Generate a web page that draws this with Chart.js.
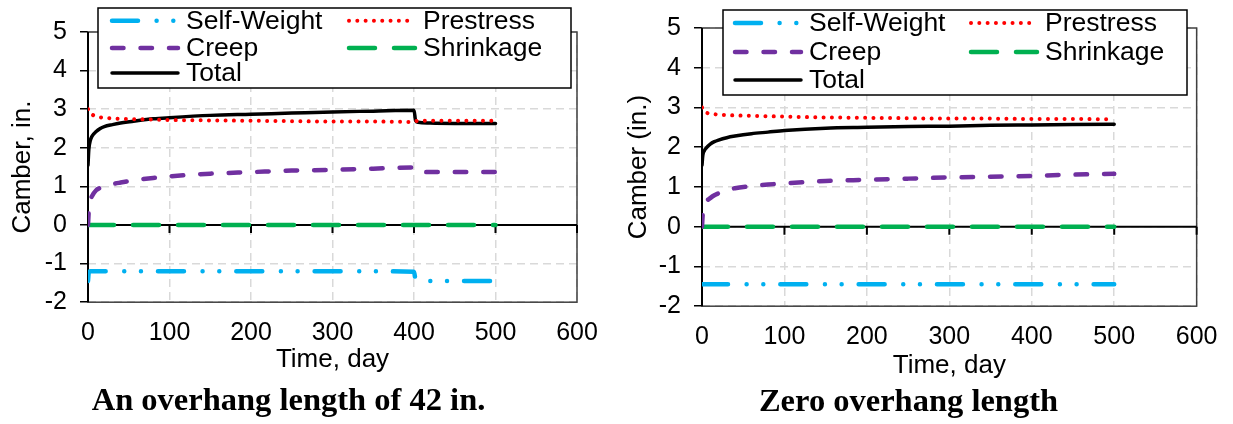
<!DOCTYPE html>
<html>
<head>
<meta charset="utf-8">
<script src="https://cdn.jsdelivr.net/npm/chart.js@4"></script>
<style>
  html, body { margin: 0; padding: 0; background: #fff; }
  body { width: 1233px; height: 424px; position: relative; overflow: hidden; }
  canvas { position: absolute; top: 0; }
  #left { left: 0; }
  #right { left: 616px; }
</style>
</head>
<body>
<canvas id="left" width="616" height="424"></canvas>
<canvas id="right" width="617" height="424"></canvas>
<script>
// camber (in.) against time (day)
const seriesNames = ['Self-Weight', 'Prestress', 'Creep', 'Shrinkage', 'Total'];

// overhang length of 42 in.
const days42       = [0, 1, 3, 5, 10, 15, 20, 30, 40, 60, 80, 100, 150, 200, 250, 300, 350, 400, 402, 405, 420, 450, 500];
const selfWeight42 = [-1.45, -1.22, -1.2, -1.2, -1.2, -1.2, -1.2, -1.2, -1.2, -1.2, -1.2, -1.2, -1.2, -1.2, -1.2, -1.2, -1.2, -1.21, -1.43, -1.45, -1.45, -1.45, -1.45];
const prestress42  = [3.0, 2.93, 2.88, 2.86, 2.81, 2.79, 2.78, 2.76, 2.75, 2.74, 2.73, 2.72, 2.71, 2.7, 2.69, 2.68, 2.68, 2.67, 2.69, 2.7, 2.7, 2.7, 2.7];
const creep42      = [0, 0.38, 0.65, 0.75, 0.9, 0.96, 1.0, 1.06, 1.1, 1.17, 1.22, 1.26, 1.33, 1.37, 1.41, 1.43, 1.46, 1.49, 1.42, 1.39, 1.37, 1.37, 1.37];
const shrinkage42  = [0, 0, 0, 0, 0, 0, 0, 0, 0, 0, 0, 0, 0, 0, 0, 0, 0, 0, 0, 0, 0, 0, 0];
const total42      = [1.55, 1.95, 2.2, 2.3, 2.42, 2.5, 2.55, 2.6, 2.64, 2.7, 2.75, 2.78, 2.84, 2.87, 2.9, 2.93, 2.95, 2.97, 2.7, 2.66, 2.64, 2.63, 2.63];

// zero overhang length
const days0        = [0, 1, 3, 5, 10, 15, 20, 30, 40, 60, 80, 100, 150, 200, 250, 300, 350, 400, 450, 500];
const selfWeight0  = [-1.45, -1.45, -1.45, -1.45, -1.45, -1.45, -1.45, -1.45, -1.45, -1.45, -1.45, -1.45, -1.45, -1.45, -1.45, -1.45, -1.45, -1.45, -1.45, -1.45];
const prestress0   = [3.0, 2.94, 2.89, 2.87, 2.84, 2.83, 2.82, 2.81, 2.8, 2.79, 2.78, 2.77, 2.75, 2.74, 2.73, 2.72, 2.72, 2.71, 2.71, 2.7];
const creep0       = [0, 0.35, 0.55, 0.63, 0.72, 0.79, 0.84, 0.92, 0.97, 1.02, 1.06, 1.09, 1.15, 1.18, 1.21, 1.24, 1.26, 1.28, 1.31, 1.33];
const shrinkage0   = [0, 0, 0, 0, 0, 0, 0, 0, 0, 0, 0, 0, 0, 0, 0, 0, 0, 0, 0, 0];
const total0       = [1.55, 1.8, 1.92, 1.98, 2.08, 2.14, 2.18, 2.24, 2.28, 2.34, 2.38, 2.42, 2.48, 2.5, 2.52, 2.53, 2.55, 2.56, 2.57, 2.58];

const seriesStyle = [
  { color: '#00B0F0', width: 4.5, dash: [26, 18.6, 0.01, 16.7, 0.01, 17] },
  { color: '#FF0000', width: 4,   dash: [0.01, 8.3] },
  { color: '#7030A0', width: 4.5, dash: [11.5, 17] },
  { color: '#00B050', width: 4.5, dash: [26, 19] },
  { color: '#000000', width: 3.5, dash: [] }
];

const sans = '"Liberation Sans", Arial, sans-serif';
Chart.defaults.font.family = sans;
Chart.defaults.color = '#000';

// plot frame, zero line and its tick marks
const frame = {
  id: 'frame',
  beforeDatasetsDraw(chart) {
    const { ctx, chartArea: { left, right, top, bottom }, scales: { x, y } } = chart;
    const y0 = y.getPixelForValue(0);
    ctx.save();
    ctx.strokeStyle = '#404040';
    ctx.lineWidth = 1.5;
    ctx.strokeRect(left, top, right - left, bottom - top);
    ctx.strokeStyle = '#000';
    ctx.lineWidth = 2;
    ctx.beginPath();
    ctx.moveTo(left, top); ctx.lineTo(left, bottom);
    ctx.moveTo(left, y0); ctx.lineTo(right, y0);
    x.ticks.forEach(t => {
      const px = x.getPixelForValue(t.value);
      ctx.moveTo(px, y0); ctx.lineTo(px, y0 + 8);
    });
    ctx.stroke();
    ctx.restore();
  }
};

// boxed legend, two columns
const boxLegend = {
  id: 'boxLegend',
  afterDraw(chart, args, opts) {
    const { ctx } = chart;
    const [bx, by, bw, bh] = opts.box;
    ctx.save();
    ctx.fillStyle = '#fff';
    ctx.fillRect(bx, by, bw, bh);
    ctx.strokeStyle = '#000';
    ctx.lineWidth = 1.5;
    ctx.strokeRect(bx, by, bw, bh);
    ctx.font = '26.5px ' + sans;
    ctx.textBaseline = 'middle';
    chart.data.datasets.forEach((ds, i) => {
      const sx = bx + opts.colX[i % 2];
      const sy = by + opts.rowY[Math.floor(i / 2)];
      ctx.beginPath();
      ctx.strokeStyle = ds.borderColor;
      ctx.lineWidth = ds.borderWidth;
      ctx.lineCap = 'round';
      ctx.setLineDash(ds.borderDash);
      ctx.moveTo(sx + 2, sy);
      ctx.lineTo(sx + 68, sy);
      ctx.stroke();
      ctx.setLineDash([]);
      ctx.fillStyle = '#000';
      ctx.fillText(ds.label, sx + 76, sy + 1);
    });
    ctx.restore();
  }
};

function buildChart(id, days, values, g) {
  const datasets = seriesNames.map((name, i) => ({
    label: name,
    data: days.map((d, k) => ({ x: d, y: values[i][k] })),
    borderColor: seriesStyle[i].color,
    borderWidth: seriesStyle[i].width,
    borderDash: seriesStyle[i].dash,
    borderCapStyle: 'round',
    borderJoinStyle: 'round',
    pointRadius: 0,
    cubicInterpolationMode: 'monotone',
    fill: false
  }));

  return new Chart(document.getElementById(id), {
    type: 'line',
    data: { datasets },
    options: {
      responsive: false,
      animation: false,
      devicePixelRatio: 1,
      layout: { padding: { left: 0, right: g.padRight, top: g.padTop, bottom: 0 } },
      plugins: {
        legend: { display: false },
        tooltip: { enabled: false },
        title: {
          display: true,
          position: 'bottom',
          text: g.title,
          color: '#000',
          font: { family: '"Liberation Serif", "Times New Roman", serif', size: 32.5, weight: 'bold' },
          padding: { top: 0, bottom: g.titlePad }
        },
        boxLegend: g.legend
      },
      scales: {
        x: {
          type: 'linear',
          min: 0, max: 600,
          afterFit(scale) { scale.height = g.xHeight; },
          ticks: { stepSize: 100, padding: g.xTickPad, font: { size: 25 } },
          grid: { color: '#D9D9D9', lineWidth: 1.5, drawTicks: false },
          border: { display: false, dash: [8, 5] },
          title: { display: true, text: 'Time, day', font: { size: 26 }, padding: { top: 0, bottom: g.xTitlePad } }
        },
        y: {
          min: -2, max: 5,
          afterFit(scale) { scale.width = g.yWidth; },
          ticks: { stepSize: 1, padding: 13, font: { size: 25 } },
          grid: { color: '#D9D9D9', lineWidth: 1.5, tickColor: '#000', tickLength: 8, tickWidth: 1.5 },
          border: { display: false, dash: [8, 5] },
          title: { display: true, text: g.yTitle, font: { size: 26 }, padding: { top: 7, bottom: 0 } }
        }
      }
    },
    plugins: [frame, boxLegend]
  });
}

buildChart('left', days42,
  [selfWeight42, prestress42, creep42, shrinkage42, total42],
  {
    title: 'An overhang length of 42 in.', yTitle: 'Camber, in.',
    padTop: 32, padRight: 39, yWidth: 88, xHeight: 80.4,
    titlePad: 2.4, xTickPad: 16, xTitlePad: 7.5,
    legend: { box: [98, 8, 473, 80], colX: [12, 249], rowY: [12.7, 40, 65] }
  });

buildChart('right', days0,
  [selfWeight0, prestress0, creep0, shrinkage0, total0],
  {
    title: 'Zero overhang length', yTitle: 'Camber (in.)',
    padTop: 20, padRight: 32, yWidth: 86, xHeight: 77.4,
    titlePad: 1.4, xTickPad: 15.5, xTitlePad: 2.5,
    legend: { box: [107, 10, 464, 85], colX: [10, 246], rowY: [13, 42, 70] }
  });
</script>
</body>
</html>
